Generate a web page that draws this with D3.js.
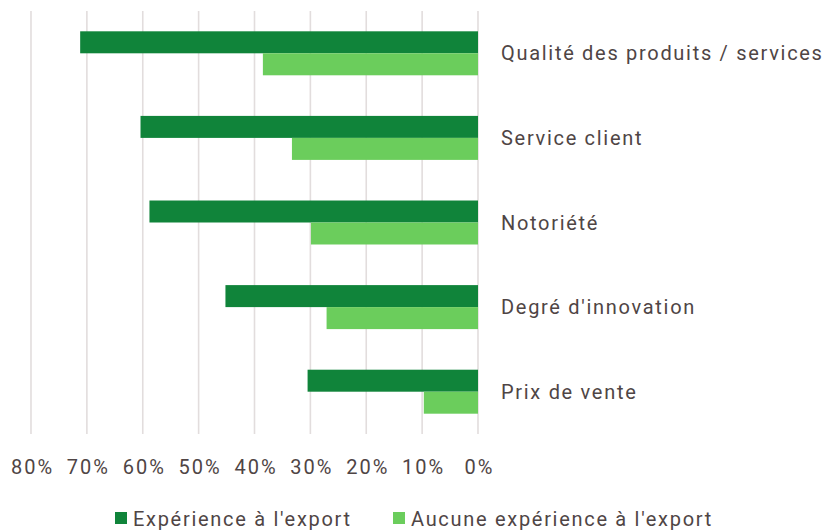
<!DOCTYPE html>
<html>
<head>
<meta charset="utf-8">
<script src="https://cdn.jsdelivr.net/npm/d3@7"></script>
<style>
  body { margin: 0; background: #fff; }
  text { font-family: Roboto, "Noto Sans", sans-serif; fill: #4f4545; }
</style>
</head>
<body>
<svg id="chart" width="828" height="530"></svg>
<script>
var categories = ["Qualité des produits / services", "Service client", "Notoriété", "Degré d'innovation", "Prix de vente"];
var seriesNames = ["Expérience à l'export", "Aucune expérience à l'export"];
var exportExp = [0.712, 0.604, 0.588, 0.452, 0.305];
var noExportExp = [0.385, 0.333, 0.299, 0.271, 0.097];
var tickValues = [0.8, 0.7, 0.6, 0.5, 0.4, 0.3, 0.2, 0.1, 0];
var colors = ["#10843a", "#6bcd5c"];

var svg = d3.select("#chart");

var x = d3.scaleLinear().domain([0, 0.8]).range([478, 31]);
var y = d3.scaleBand().domain(categories).range([11, 434]).paddingInner(0.48).paddingOuter(0.24);

// grid
svg.append("g").selectAll("line").data(tickValues).enter().append("line")
    .attr("x1", function(d){ return x(d); })
    .attr("x2", function(d){ return x(d); })
    .attr("y1", 11)
    .attr("y2", 434)
    .attr("stroke", "#e2dddd")
    .attr("stroke-width", 1.6);

// bars
var rows = categories.map(function(c, i){
    return { cat: c, vals: [exportExp[i], noExportExp[i]] };
});
var half = y.bandwidth() / 2;
var g = svg.append("g").selectAll("g").data(rows).enter().append("g")
    .attr("transform", function(d){ return "translate(0," + y(d.cat) + ")"; });

g.selectAll("rect").data(function(d){ return d.vals; }).enter().append("rect")
    .attr("x", function(d){ return x(d); })
    .attr("y", function(d, i){ return i * half; })
    .attr("width", function(d){ return x(0) - x(d); })
    .attr("height", half)
    .attr("fill", function(d, i){ return colors[i]; });

// category labels
svg.append("g").selectAll("text").data(categories).enter().append("text")
    .attr("x", 501)
    .attr("y", function(d){ return y(d) + y.bandwidth() / 2; })
    .attr("dy", "0.35em")
    .attr("font-size", 20)
    .attr("letter-spacing", 1.7)
    .text(function(d){ return d; });

// x axis labels
var axis = d3.axisBottom(x).tickValues(tickValues).tickSize(0).tickPadding(0)
    .tickFormat(d3.format(".0%"));
var ax = svg.append("g").attr("transform", "translate(0,460)").call(axis);
ax.select(".domain").remove();
ax.selectAll("text")
    .attr("font-size", 20)
    .attr("dy", "0.71em")
    .attr("dx", 1)
    .attr("letter-spacing", 2)
    .style("font-family", "Roboto, sans-serif")
    .style("fill", "#4f4545");

// legend
var legendX = [115, 393];
var leg = svg.append("g").selectAll("g").data(seriesNames).enter().append("g")
    .attr("transform", function(d, i){ return "translate(" + legendX[i] + ",512)"; });
leg.append("rect").attr("width", 12).attr("height", 12)
    .attr("fill", function(d, i){ return colors[i]; });
leg.append("text").attr("x", 18).attr("y", 6).attr("dy", "0.4em")
    .attr("font-size", 20)
    .attr("letter-spacing", 1.7)
    .text(function(d){ return d; });
</script>
</body>
</html>
